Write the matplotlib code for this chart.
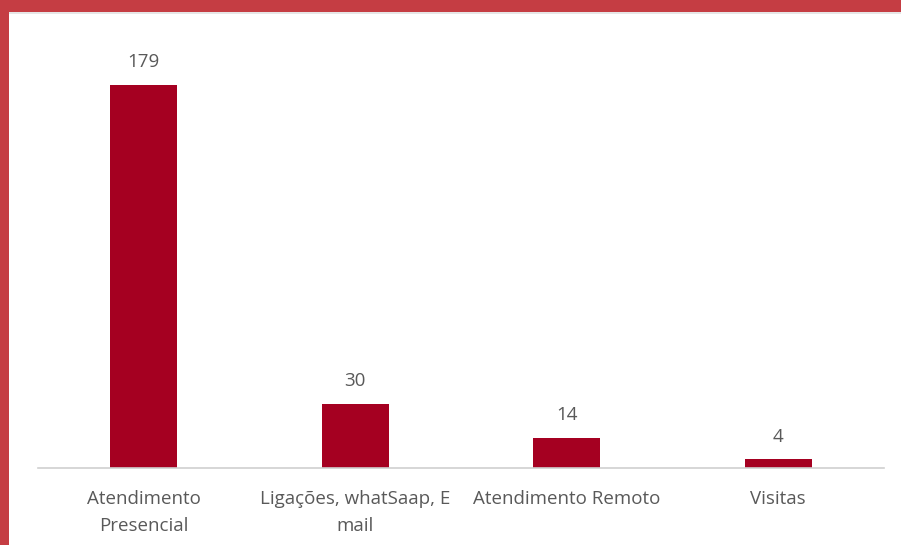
import matplotlib
matplotlib.use("Agg")
import matplotlib.pyplot as plt
from matplotlib.patches import Rectangle

# Dados do gráfico
categorias = ["Atendimento\nPresencial", "Ligações, whatSaap, E\nmail",
              "Atendimento Remoto", "Visitas"]
valores = [179, 30, 14, 4]

cor_barra = "#A50021"
cor_texto = "#595959"

plt.rcParams['font.family'] = ['Open Sans', 'DejaVu Sans']

fig = plt.figure(figsize=(9.01, 5.45), dpi=100)
fig.patch.set_facecolor("white")

# moldura vermelha (topo e esquerda)
fig.patches.append(Rectangle((0, 1 - 12/545), 1, 12/545, transform=fig.transFigure,
                             facecolor="#C53D43", edgecolor="none", zorder=0))
fig.patches.append(Rectangle((0, 1 - 14/545), 1, 2/545, transform=fig.transFigure,
                             facecolor="#E6E6E6", edgecolor="none", zorder=0))
fig.patches.append(Rectangle((0, 0), 9/901, 1, transform=fig.transFigure,
                             facecolor="#C53D43", edgecolor="none", zorder=1))

ax = fig.add_axes([38/901, 77/545, 846/901, 428/545])
x = list(range(len(valores)))
bars = ax.bar(x, valores, width=0.315, color=cor_barra, zorder=2)

for b, v in zip(bars, valores):
    ax.text(b.get_x() + b.get_width()/2, v + 6.5, str(v), ha="center", va="bottom",
            fontsize=13.5, color=cor_texto)

ax.set_xlim(-0.5, 3.5)
ax.set_ylim(0, 200)
ax.set_xticks(x)
ax.set_xticklabels(categorias, fontsize=13.5, color=cor_texto, linespacing=1.65)
ax.tick_params(axis="x", length=0, pad=16)
ax.set_yticks([])
for s in ["top", "right", "left"]:
    ax.spines[s].set_visible(False)
ax.spines["bottom"].set_color("#D0D0D0")
ax.spines["bottom"].set_linewidth(1.2)
ax.set_facecolor("white")

fig.savefig("out.png", dpi=100)
